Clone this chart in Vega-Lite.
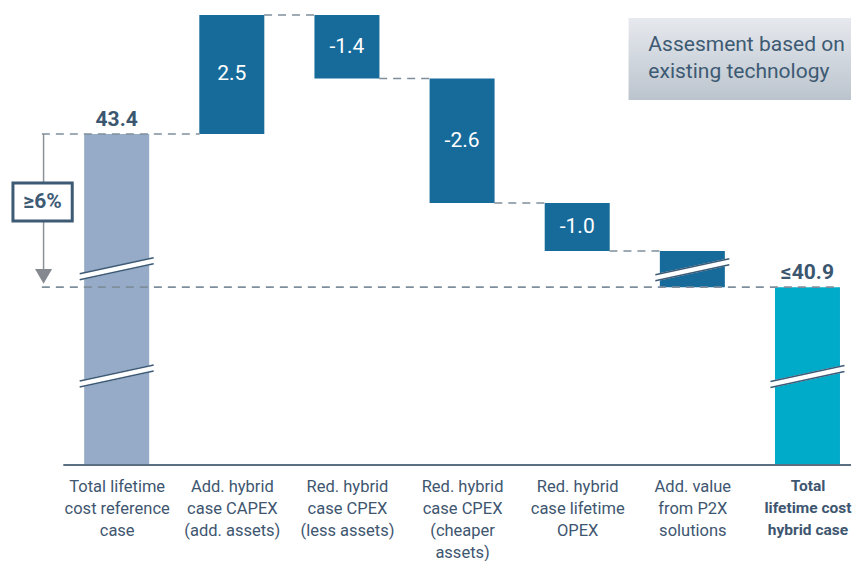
{
  "$schema": "https://vega.github.io/schema/vega-lite/v6.json",
  "width": 856,
  "height": 465,
  "autosize": {"type": "none"},
  "padding": {"left": 0, "top": 0, "right": 0, "bottom": 96},
  "background": "white",
  "config": {"view": {"stroke": null}},
  "datasets": {
    "bars": [
      {"x": 0, "v": 43.4, "v2": 0, "kind": "ref", "label": "43.4"},
      {"x": 1, "v": 45.93, "v2": 43.4, "kind": "step", "label": "2.5"},
      {"x": 2, "v": 45.93, "v2": 44.58, "kind": "step", "label": "-1.4"},
      {"x": 3, "v": 44.58, "v2": 41.93, "kind": "step", "label": "-2.6"},
      {"x": 4, "v": 41.93, "v2": 40.91, "kind": "step", "label": "-1.0"},
      {"x": 5, "v": 40.91, "v2": 40.14, "kind": "step", "label": ""},
      {"x": 6, "v": 40.14, "v2": 0, "kind": "hybrid", "label": "≤40.9"}
    ],
    "dashes": [
      {"x": -0.65, "x2": 0.72, "v": 43.4},
      {"x": 1.28, "x2": 1.72, "v": 45.93},
      {"x": 2.28, "x2": 2.72, "v": 44.58},
      {"x": 3.28, "x2": 3.72, "v": 41.93},
      {"x": 4.28, "x2": 4.72, "v": 40.91},
      {"x": -0.65, "x2": 6.28, "v": 40.14}
    ],
    "breaks": [
      {"x": 0, "v": 40.53},
      {"x": 0, "v": 38.25},
      {"x": 5, "v": 40.51},
      {"x": 6, "v": 38.24}
    ]
  },
  "encoding": {
    "x": {
      "field": "x",
      "type": "quantitative",
      "scale": {"domain": [-0.97, 6.378], "nice": false, "zero": false},
      "axis": {
        "values": [0, 1, 2, 3, 4, 5, 6],
        "title": null,
        "domain": false,
        "ticks": false,
        "grid": false,
        "labelPadding": 13,
        "labelFontSize": {"condition": {"test": "datum.value === 6", "value": 15.5}, "value": 16.5},
        "labelFont": "Roboto",
        "labelColor": "#3e5670",
        "labelLineHeight": 22,
        "labelBaseline": "top",
        "labelAlign": "center",
        "labelOverlap": false,
        "labelFlush": false,
        "labelBound": false,
        "labelExpr": "[['Total lifetime','cost reference','case'],['Add. hybrid','case CAPEX','(add. assets)'],['Red. hybrid','case CPEX','(less assets)'],['Red. hybrid','case CPEX','(cheaper','assets)'],['Red. hybrid','case lifetime','OPEX'],['Add. value','from P2X','solutions'],['Total','lifetime cost','hybrid case']][datum.value]",
        "labelFontWeight": {"condition": {"test": "datum.value === 6", "value": "bold"}, "value": "normal"}
      }
    },
    "y": {
      "field": "v",
      "type": "quantitative",
      "scale": {"domain": [36.356, 46.25], "nice": false, "zero": false, "clamp": true},
      "axis": null
    }
  },
  "layer": [
    {
      "data": {"values": [{"x": 4.446, "x2": 6.378, "v": 45.867, "v2": 44.122}]},
      "mark": {"type": "rect", "fill": {"gradient": "linear", "x1": 0, "y1": 0, "x2": 0, "y2": 1, "stops": [{"offset": 0, "color": "#e6e9ee"}, {"offset": 1, "color": "#bbc4cd"}]}},
      "encoding": {"x2": {"field": "x2"}, "y2": {"field": "v2"}}
    },
    {
      "data": {"name": "bars"},
      "mark": {"type": "bar", "width": 65},
      "encoding": {
        "y2": {"field": "v2"},
        "color": {"field": "kind", "type": "nominal", "scale": {"domain": ["ref", "step", "hybrid"], "range": ["#95abc8", "#176b9b", "#00aac9"]}, "legend": null}
      }
    },
    {
      "data": {"values": [{"x": -0.4635, "x2": 6.378, "v": 36.356}]},
      "mark": {"type": "rule", "color": "#5b6f82", "strokeWidth": 2},
      "encoding": {"x2": {"field": "x2"}}
    },
    {
      "data": {"name": "dashes"},
      "mark": {"type": "rule", "color": "#7f8e9c", "strokeWidth": 1.6, "strokeDash": [8, 6]},
      "encoding": {"x2": {"field": "x2"}}
    },
    {
      "data": {"values": [{"x": -0.635, "v": 43.4, "v2": 40.5}]},
      "mark": {"type": "rule", "color": "#8c9197", "strokeWidth": 1.5},
      "encoding": {"y2": {"field": "v2"}}
    },
    {
      "data": {"values": [{"x": -0.635, "v": 40.367}]},
      "mark": {"type": "point", "shape": "triangle-down", "size": 290, "filled": true, "color": "#85898f", "opacity": 1}
    },
    {
      "data": {"values": [{"x": -0.901, "x2": -0.386, "v": 42.356, "v2": 41.548}]},
      "mark": {"type": "rect", "fill": "white", "stroke": "#3e5b75", "strokeWidth": 3},
      "encoding": {"x2": {"field": "x2"}, "y2": {"field": "v2"}}
    },
    {
      "data": {"values": [{"x": -0.644, "v": 41.95, "t": "≥6%"}]},
      "mark": {"type": "text", "font": "Roboto", "fontWeight": "bold", "fontSize": 21, "color": "#3e5b75", "baseline": "middle", "align": "center"},
      "encoding": {"text": {"field": "t"}}
    },
    {
      "data": {"name": "breaks"},
      "mark": {"type": "rule", "color": "white", "strokeWidth": 7, "strokeCap": "butt", "xOffset": -37, "x2Offset": 37, "yOffset": 8, "y2Offset": -8},
      "encoding": {"x2": {"field": "x"}, "y2": {"field": "v"}}
    },
    {
      "data": {"name": "breaks"},
      "mark": {"type": "rule", "color": "#3d5b77", "strokeWidth": 1.5, "strokeCap": "butt", "xOffset": -37, "x2Offset": 37, "yOffset": 5, "y2Offset": -11},
      "encoding": {"x2": {"field": "x"}, "y2": {"field": "v"}}
    },
    {
      "data": {"name": "breaks"},
      "mark": {"type": "rule", "color": "#3d5b77", "strokeWidth": 1.5, "strokeCap": "butt", "xOffset": -37, "x2Offset": 37, "yOffset": 11, "y2Offset": -5},
      "encoding": {"x2": {"field": "x"}, "y2": {"field": "v"}}
    },
    {
      "data": {"name": "bars"},
      "transform": [
        {"filter": "datum.kind === 'step' && datum.label !== ''"},
        {"calculate": "(datum.v + datum.v2) / 2", "as": "v"}
      ],
      "mark": {"type": "text", "font": "Roboto", "fontSize": 21, "color": "white", "baseline": "middle", "align": "center"},
      "encoding": {"text": {"field": "label"}}
    },
    {
      "data": {"name": "bars"},
      "transform": [{"filter": "datum.kind !== 'step'"}],
      "mark": {"type": "text", "font": "Roboto", "fontSize": 21, "fontWeight": "bold", "color": "#3b566f", "baseline": "alphabetic", "align": "center", "dy": -8},
      "encoding": {"text": {"field": "label"}}
    },
    {
      "data": {"values": [{"x": 4.618, "v": 45.165, "t": "Assesment based on\nexisting technology"}]},
      "mark": {"type": "text", "font": "Roboto", "fontSize": 21, "color": "#3d5a73", "baseline": "alphabetic", "align": "left", "lineBreak": "\n", "lineHeight": 27},
      "encoding": {"text": {"field": "t"}}
    }
  ]
}
